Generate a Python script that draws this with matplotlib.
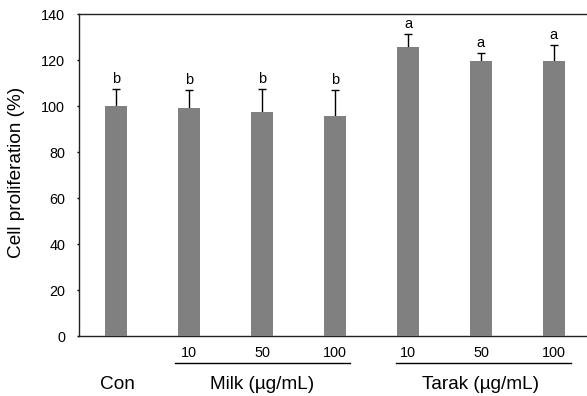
import matplotlib
matplotlib.use("Agg")
import matplotlib.pyplot as plt
from matplotlib.transforms import blended_transform_factory

plt.rcParams['font.family'] = ['Liberation Sans', 'DejaVu Sans']

groups = ["Con", "Milk (µg/mL)", "Tarak (µg/mL)"]
doses = ["", "10", "50", "100", "10", "50", "100"]
means = [100.0, 99.0, 97.5, 95.8, 125.5, 119.7, 119.7]
errors = [7.4, 8.1, 9.8, 11.0, 5.9, 3.3, 6.7]
letters = ["b", "b", "b", "b", "a", "a", "a"]
yticks = [0, 20, 40, 60, 80, 100, 120, 140]

fig = plt.figure(figsize=(5.87, 3.96), dpi=100)
ax = fig.add_axes([0.1346, 0.1515, 0.8654 + 0.002, 0.8131])

x = list(range(len(means)))
ax.bar(x, means, width=0.30, color="#808080", zorder=3)
ax.errorbar(x, means, yerr=errors, fmt="none", ecolor="black",
            elinewidth=1.0, capsize=3, capthick=1.0, zorder=2)
for xi, m, e, l in zip(x, means, errors, letters):
    ax.text(xi, m + e + 2.6, l, ha="center", va="baseline", fontsize=10.5)

ax.set_xlim(-0.508, 6.47)
ax.set_ylim(0, 140)
ax.set_yticks(yticks)
ax.set_yticklabels([str(t) for t in yticks], fontsize=10.4)
ax.set_xticks([])
ax.tick_params(axis="y", direction="out", length=1.5, width=1, pad=8.5)
ax.spines["right"].set_visible(False)
for s in ["left", "top", "bottom"]:
    ax.spines[s].set_linewidth(1.0)
    ax.spines[s].set_color("#222222")

fig.text(17 / 587, 1 - 172 / 396, "Cell proliferation (%)", rotation=90,
         ha="center", va="center", fontsize=13.7)

tr = blended_transform_factory(ax.transData, ax.transAxes)
for xi, d in zip(x, doses):
    if d:
        ax.text(xi, -0.053, d, transform=tr, ha="center", va="center",
                fontsize=10.4, clip_on=False)

# group underlines and labels
ax.plot([0.81, 3.2], [-0.083, -0.083], transform=tr, color="black",
        lw=1.0, clip_on=False)
ax.plot([3.84, 6.23], [-0.083, -0.083], transform=tr, color="black",
        lw=1.0, clip_on=False)
ax.text(0.02, -0.152, groups[0], transform=tr, ha="center", va="center",
        fontsize=13.7, clip_on=False)
ax.text(2.0, -0.152, groups[1], transform=tr, ha="center", va="center",
        fontsize=13.7, clip_on=False)
ax.text(5.0, -0.152, groups[2], transform=tr, ha="center", va="center",
        fontsize=13.7, clip_on=False)

fig.savefig("out.png", dpi=100)
